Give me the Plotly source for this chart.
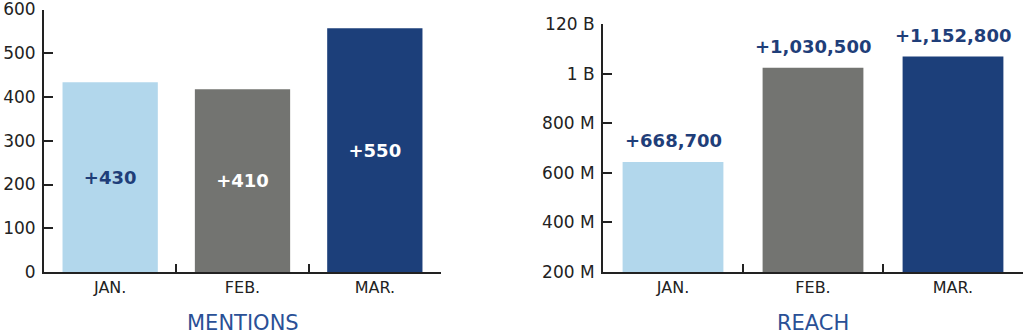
import plotly.graph_objects as go

months = ["JAN.", "FEB.", "MAR."]
mentions_values = [434, 418, 557]
mentions_labels = ["+430", "+410", "+550"]
reach_values = [644e6, 1025e6, 1070e6]
reach_labels = ["+668,700", "+1,030,500", "+1,152,800"]
reach_tickvals = [200e6, 400e6, 600e6, 800e6, 1000e6, 1200e6]
reach_ticktext = ["200 M", "400 M", "600 M", "800 M", "1 B", "120 B"]
mentions_tickvals = [0, 100, 200, 300, 400, 500, 600]

bar_colors = ["#b2d7ec", "#737471", "#1c3f7a"]
label_colors = ["#1f3e79", "#ffffff", "#ffffff"]
navy = "#1f3e79"
title_blue = "#2a5096"
axis_col = "#222222"
tick_font = dict(family="DejaVu Sans", size=17, color="#222222")
cat_font = dict(family="DejaVu Sans", size=16, color="#222222")
lab_font = "DejaVu Sans"

fig = go.Figure()
fig.add_trace(go.Bar(
    x=months, y=mentions_values, marker=dict(color=bar_colors, line=dict(width=0)),
    width=0.72, text=mentions_labels, textposition="inside", insidetextanchor="middle",
    textfont=dict(family=lab_font, size=18, color=label_colors, weight="bold"),
    textangle=0, xaxis="x", yaxis="y", hoverinfo="skip", showlegend=False))
fig.add_trace(go.Bar(
    x=months, y=reach_values, marker=dict(color=bar_colors, line=dict(width=0)),
    width=0.72, xaxis="x2", yaxis="y2", hoverinfo="skip", showlegend=False))

for m, v, t in zip(months, reach_values, reach_labels):
    fig.add_annotation(x=m, y=v, xref="x2", yref="y2", text=t, showarrow=False,
                       yanchor="bottom", yshift=9,
                       font=dict(family=lab_font, size=18, color=navy, weight="bold"))

fig.add_annotation(x=0.5, y=13 / 336, xref="x domain", yref="paper", text="MENTIONS",
                   showarrow=False, xanchor="center", yanchor="middle",
                   font=dict(family="DejaVu Sans", size=21, color=title_blue))
fig.add_annotation(x=0.5, y=13 / 336, xref="x2 domain", yref="paper", text="REACH",
                   showarrow=False, xanchor="center", yanchor="middle",
                   font=dict(family="DejaVu Sans", size=21, color=title_blue))

xcommon = dict(type="category", range=[-0.5, 2.5], showline=True, linecolor=axis_col,
               linewidth=2, ticks="inside", tickson="boundaries", ticklen=8, tickwidth=1.5,
               tickcolor=axis_col, tickfont=cat_font, showgrid=False, zeroline=False,
               fixedrange=True, automargin=False)
ycommon = dict(showline=True, linecolor=axis_col, linewidth=2, ticks="inside", ticklen=9,
               tickwidth=2, tickcolor=axis_col, tickfont=tick_font, showgrid=False,
               zeroline=False, ticklabelstandoff=3, automargin=False, fixedrange=True,
               ticklabeloverflow="allow")
fig.update_layout(
    width=1024, height=336, autosize=False,
    margin=dict(l=0, r=0, t=0, b=0, autoexpand=False),
    paper_bgcolor="white", plot_bgcolor="white",
    xaxis=dict(domain=[44 / 1024, 441 / 1024], anchor="y", **xcommon),
    xaxis2=dict(domain=[603 / 1024, 1023 / 1024], anchor="y2", **xcommon),
    yaxis=dict(domain=[64 / 336, 326.5 / 336], anchor="x", range=[0, 600],
               tickvals=mentions_tickvals, **ycommon),
    yaxis2=dict(domain=[64 / 336, 311.7 / 336], anchor="x2", range=[200e6, 1200e6],
                tickvals=reach_tickvals, ticktext=reach_ticktext, **ycommon),
)
fig.write_html("out.html")
